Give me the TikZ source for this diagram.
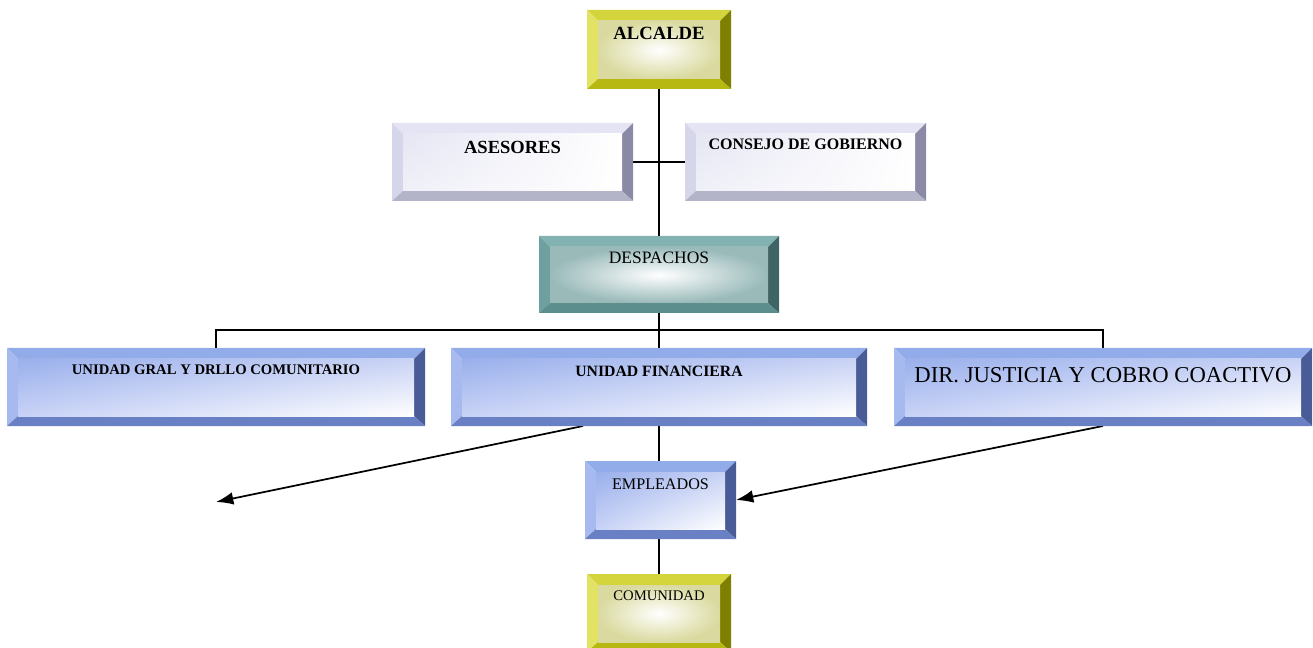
\documentclass[tikz,border=0pt]{standalone}
\usepackage{fontspec}
\setmainfont{Liberation Serif}
\usetikzlibrary{calc,arrows.meta,shadings}
% yellow
\definecolor{yT}{HTML}{D4D43C}\definecolor{yL}{HTML}{E2E264}\definecolor{yR}{HTML}{7F7F00}\definecolor{yB}{HTML}{B8B812}\definecolor{yF}{HTML}{DADAA0}
% lavender
\definecolor{lT}{HTML}{E4E4F4}\definecolor{lL}{HTML}{D6D6EA}\definecolor{lR}{HTML}{8A8AA6}\definecolor{lB}{HTML}{B4B4C8}\definecolor{lF}{HTML}{E6E6F4}
% teal
\definecolor{tT}{HTML}{82B2B2}\definecolor{tL}{HTML}{6EA0A0}\definecolor{tR}{HTML}{3E6464}\definecolor{tB}{HTML}{5C8E8E}\definecolor{tF}{HTML}{9ABABA}
% blue
\definecolor{bT}{HTML}{92ACEA}\definecolor{bL}{HTML}{A6BAF0}\definecolor{bR}{HTML}{4A5C98}\definecolor{bB}{HTML}{6A80C4}
\definecolor{bUL}{HTML}{9AB0EC}\definecolor{bUR}{HTML}{C8D2F4}\definecolor{bLL}{HTML}{C8D2F6}
\newcommand\bev[6]{%
  \coordinate (o1) at (#1.north west);
  \coordinate (o2) at (#1.north east);
  \coordinate (o3) at (#1.south east);
  \coordinate (o4) at (#1.south west);
  \coordinate (i1) at ($(o1)+(11,11)$);
  \coordinate (i2) at ($(o2)+(-11,11)$);
  \coordinate (i3) at ($(o3)+(-11,-10)$);
  \coordinate (i4) at ($(o4)+(11,-10)$);
  \fill[#2] (o1)--(o2)--(i2)--(i1)--cycle;
  \fill[#3] (o1)--(i1)--(i4)--(o4)--cycle;
  \fill[#4] (o2)--(o3)--(i3)--(i2)--cycle;
  \fill[#5] (o4)--(i4)--(i3)--(o3)--cycle;
  \shade[#6] (i1) rectangle (i3);
}
\tikzset{
  box/.style={rectangle,inner sep=0pt,outer sep=0pt},
  lbl/.style={inner sep=0pt,text=black,align=center},
  conn/.style={line width=1.6pt,black},
  bus/.style={line width=1.2pt,black},
  arr/.style={line width=1.3pt,black,-{Latex[length=13pt,width=9.5pt]}},
  yface/.style={inner color=white,outer color=yF},
  lface/.style={upper left=lF,upper right=white,lower left=lF!60!white,lower right=white},
  tface/.style={inner color=white,outer color=tF},
  bface/.style={upper left=bUL,upper right=bUR,lower left=bLL,lower right=white},
}
\begin{document}
\begin{tikzpicture}[x=0.75pt,y=-0.75pt]
\useasboundingbox (0,0) rectangle (1313,648);
\clip (0,0) rectangle (1313,648);
% boxes
\node[box,minimum width=108pt,minimum height=59.25pt] (alc) at (659,49.5) {};
\node[box,minimum width=180.75pt,minimum height=58.5pt] (ase) at (512.5,162) {};
\node[box,minimum width=180.75pt,minimum height=58.5pt] (con) at (805.5,162) {};
\node[box,minimum width=180pt,minimum height=57.75pt] (des) at (659,274.5) {};
\node[box,minimum width=313.5pt,minimum height=58.5pt] (ugr) at (216,387) {};
\node[box,minimum width=312pt,minimum height=58.5pt] (ufi) at (659,387) {};
\node[box,minimum width=313.5pt,minimum height=58.5pt] (dir) at (1103,387) {};
\node[box,minimum width=113.25pt,minimum height=58.5pt] (emp) at (660.5,500) {};
\node[box,minimum width=108pt,minimum height=58.5pt] (com) at (659,613) {};
% connectors
\draw[conn] (alc.south) -- (des.north);
\draw[bus] (ase.east) -- (con.west);
\draw[conn] (des.south) -- (ufi.north);
\draw[bus] (ugr.north) -- ++(0,-18) -| (dir.north);
\draw[conn] (ufi.south) -- (ufi.south |- emp.north);
\draw[conn] (com.north |- emp.south) -- (com.north);
\coordinate (afrom) at ($(ufi.south)+(-76,0)$);
\coordinate (aend) at (216,502);
\draw[arr] (afrom) -- (aend);
\draw[arr] (dir.south) -- (emp.east);
% bevels
\bev{alc}{yT}{yL}{yR}{yB}{yface}
\bev{com}{yT}{yL}{yR}{yB}{yface}
\bev{ase}{lT}{lL}{lR}{lB}{lface}
\bev{con}{lT}{lL}{lR}{lB}{lface}
\bev{des}{tT}{tL}{tR}{tB}{tface}
\bev{ugr}{bT}{bL}{bR}{bB}{bface}
\bev{ufi}{bT}{bL}{bR}{bB}{bface}
\bev{dir}{bT}{bL}{bR}{bB}{bface}
\bev{emp}{bT}{bL}{bR}{bB}{bface}
% texts
\node[lbl,font=\fontsize{14}{16}\selectfont\bfseries] (alct) at ($(alc.north)+(0,23)$) {ALCALDE};
\node[lbl,font=\fontsize{13.9}{16}\selectfont\bfseries] (aset) at ($(ase.north)+(0,24)$) {ASESORES};
\node[lbl,font=\fontsize{12}{14}\selectfont\bfseries] (cont) at ($(con.north)+(0,21)$) {CONSEJO DE GOBIERNO};
\node[lbl,font=\fontsize{13.1}{15}\selectfont] (dest) at ($(des.north)+(0,22)$) {DESPACHOS};
\node[lbl,font=\fontsize{11}{13}\selectfont\bfseries] (ugrt) at ($(ugr.north)+(0,22)$) {UNIDAD GRAL Y DRLLO COMUNITARIO};
\node[lbl,font=\fontsize{11.8}{13}\selectfont\bfseries] (ufit) at ($(ufi.north)+(0,23)$) {UNIDAD FINANCIERA};
\node[lbl,font=\fontsize{17}{19}\selectfont] (dirt) at ($(dir.north)+(0,27)$) {DIR. JUSTICIA Y COBRO COACTIVO};
\node[lbl,font=\fontsize{12.1}{14}\selectfont] (empt) at ($(emp.north)+(0,23)$) {EMPLEADOS};
\node[lbl,font=\fontsize{11}{13}\selectfont] (comt) at ($(com.north)+(0,22)$) {COMUNIDAD};
\end{tikzpicture}
\end{document}
